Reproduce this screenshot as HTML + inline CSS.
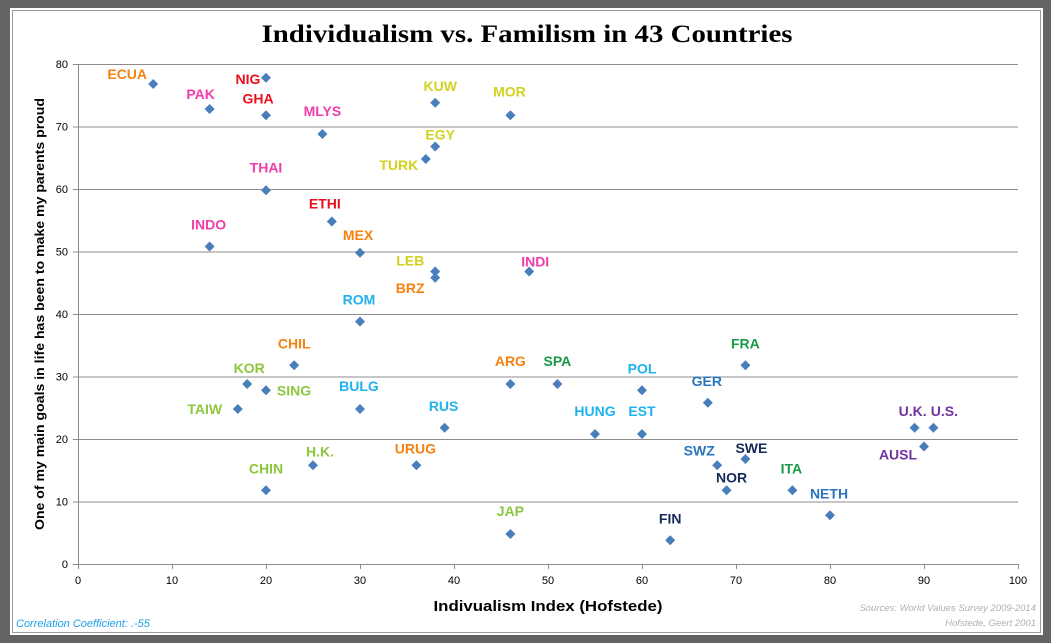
<!DOCTYPE html>
<html><head><meta charset="utf-8"><style>
html,body{margin:0;padding:0;background:#646464;width:1051px;height:643px;overflow:hidden}
svg{display:block}
</style></head><body>
<svg id="chart" width="1051" height="643" xmlns="http://www.w3.org/2000/svg">
<rect x="0" y="0" width="1051" height="643" fill="#646464"/>
<rect x="10" y="8" width="1033" height="627" fill="#ffffff"/>
<rect x="12.5" y="10.5" width="1028" height="622" fill="none" stroke="#9a9a9a" stroke-width="1"/>
<text x="527" y="42" text-anchor="middle" textLength="531" lengthAdjust="spacingAndGlyphs" font-family="Liberation Serif, serif" font-weight="bold" font-size="25" fill="#000">Individualism vs. Familism in 43 Countries</text>
<g id="grid"></g><g id="ticks"></g><g id="points"></g><g id="labels"></g>
<text x="548" y="611" text-anchor="middle" textLength="229" lengthAdjust="spacingAndGlyphs" font-family="Liberation Sans, sans-serif" font-weight="bold" font-size="15" fill="#000">Indivualism Index  (Hofstede)</text>
<text transform="translate(44,314) rotate(-90)" text-anchor="middle" textLength="432" lengthAdjust="spacingAndGlyphs" font-family="Liberation Sans, sans-serif" font-weight="bold" font-size="13" fill="#000">One of my main goals in life has been to make my parents proud</text>
<text x="16" y="627" font-family="Liberation Sans, sans-serif" font-style="italic" font-size="11" fill="#1ea0e6">Correlation Coefficient: .-55</text>
<text x="1036" y="611" text-anchor="end" font-family="Liberation Sans, sans-serif" font-style="italic" font-size="9.5" fill="#b0b0b0">Sources: World Values Survey 2009-2014</text>
<text x="1036" y="626" text-anchor="end" font-family="Liberation Sans, sans-serif" font-style="italic" font-size="9.5" fill="#b0b0b0">Hofstede, Geert 2001</text>
</svg>
<script>
const countries=["ECUA","PAK","NIG","GHA","MLYS","KUW","MOR","EGY","TURK","THAI","ETHI","INDO","MEX","LEB","BRZ","INDI","ROM","CHIL","KOR","SING","TAIW","BULG","ARG","SPA","POL","FRA","GER","RUS","HUNG","EST","U.K.","U.S.","AUSL","H.K.","URUG","SWZ","SWE","NOR","ITA","CHIN","NETH","JAP","FIN"];
const individualism=[8,14,20,20,26,38,46,38,37,20,27,14,30,38,38,48,30,23,18,20,17,30,46,51,60,71,67,39,55,60,89,91,90,25,36,68,71,69,76,20,80,46,63];
const parentsProud=[76.8,72.8,77.8,71.8,68.8,73.8,71.8,66.8,64.8,59.8,54.8,50.8,49.8,46.8,45.8,46.8,38.8,31.8,28.8,27.8,24.8,24.8,28.8,28.8,27.8,31.8,25.8,21.8,20.8,20.8,21.8,21.8,18.8,15.8,15.8,15.8,16.8,11.8,11.8,11.8,7.8,4.8,3.8];
const groups=["or","pk","rd","rd","pk","ye","ye","ye","ye","pk","rd","pk","or","ye","or","pk","lb","or","lg","lg","lg","lb","or","gr","lb","gr","bl","lb","lb","lb","pu","pu","pu","lg","or","bl","nv","nv","gr","lg","bl","lg","nv"];
const xTicks=[0,10,20,30,40,50,60,70,80,90,100];
const yTicks=[0,10,20,30,40,50,60,70,80];
const colors={or:"#f5820f",pk:"#f23caa",rd:"#ea0f1c",ye:"#d2d21e",lb:"#1eb2ee",lg:"#8cc63e",gr:"#199a48",bl:"#2a76be",nv:"#162a58",pu:"#7232a0"};
const offs=[[-26,-10],[-9,-15],[-18,1],[-8,-17],[0,-23],[5,-17],[-1,-24],[5,-12],[-27,6],[0,-23],[-7,-18],[-1,-22],[-2,-18],[-25,-11],[-25,10],[6,-10],[-1,-22],[0,-22],[2,-16],[28,0],[-33,0],[-1,-23],[0,-23],[0,-23],[0,-22],[0,-22],[-1,-22],[-1,-22],[0,-23],[0,-23],[-2,-17],[11,-17],[-26,8],[7,-14],[-1,-17],[-18,-15],[6,-11],[5,-13],[-1,-22],[0,-22],[-1,-22],[0,-23],[0,-22]];
const X0=78,X1=1018,Y0=564,Y1=64;
const xs=v=>X0+(X1-X0)*v/100, ys=v=>Y0-(Y0-Y1)*v/80;
const NS="http://www.w3.org/2000/svg";
function mk(t,a,p){const e=document.createElementNS(NS,t);for(const k in a)e.setAttribute(k,a[k]);p.appendChild(e);return e;}
const grid=document.getElementById('grid'),ticks=document.getElementById('ticks'),pts=document.getElementById('points'),lbl=document.getElementById('labels');
yTicks.forEach(v=>{
 if(v>0){const l=mk('line',{x1:X0,x2:X1,y1:ys(v)+0.5,y2:ys(v)+0.5,stroke:'#8c8c8c','stroke-width':1},grid);
 
 }
 const t=mk('text',{x:X0-10,y:ys(v)+4,'text-anchor':'end','font-family':'Liberation Sans, sans-serif','font-size':11,fill:'#000'},ticks);t.textContent=v;
 
 
 const m=mk('line',{x1:X0-5,x2:X0,y1:ys(v)+0.5,y2:ys(v)+0.5,stroke:'#8c8c8c'},ticks);
 
 
});
const ax=mk('line',{x1:X0+0.5,x2:X0+0.5,y1:Y1,y2:Y0,stroke:'#8c8c8c'},grid);


const bx=mk('line',{x1:X0,x2:X1,y1:Y0+0.5,y2:Y0+0.5,stroke:'#8c8c8c'},grid);


xTicks.forEach(v=>{
 const m=mk('line',{x1:xs(v)+0.5,x2:xs(v)+0.5,y1:Y0,y2:Y0+5,stroke:'#8c8c8c'},ticks);
 
 
 const t=mk('text',{x:xs(v),y:Y0+20,'text-anchor':'middle','font-family':'Liberation Sans, sans-serif','font-size':11,fill:'#000'},ticks);t.textContent=v;
 
 
});
countries.forEach((c,i)=>{
 const x=xs(individualism[i]),y=ys(parentsProud[i]);
 const p=mk('path',{d:`M${x} ${y-5}L${x+5} ${y}L${x} ${y+5}L${x-5} ${y}Z`,fill:'#4a7ebb'},pts);
 
 
 const t=mk('text',{x:x+offs[i][0],y:y+offs[i][1]+5,'text-anchor':'middle','font-family':'Liberation Sans, sans-serif','font-weight':'bold','font-size':14,fill:colors[groups[i]]},lbl);
 t.textContent=c;
 
 
});
</script>
</body></html>
